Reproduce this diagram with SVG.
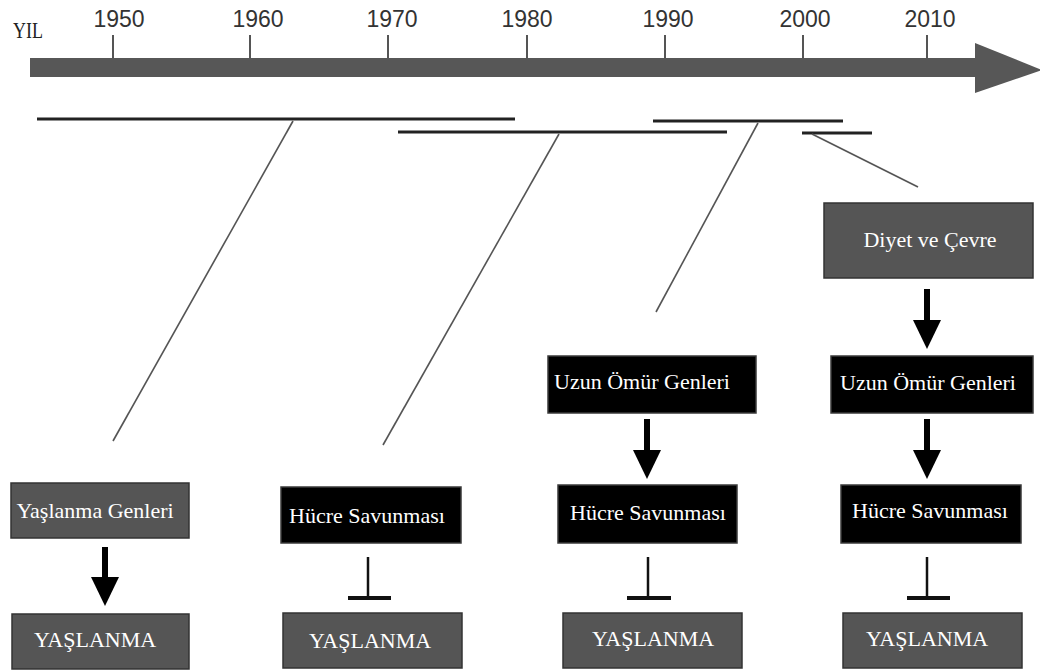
<svg xmlns="http://www.w3.org/2000/svg" width="1040" height="671" viewBox="0 0 1040 671">
<defs>
<style>
.yr{font-family:"Liberation Sans",Arial,sans-serif;font-size:23px;fill:#333;text-anchor:middle}
.tick{stroke:#555;stroke-width:2}
.lbl{font-family:"Liberation Serif","Times New Roman",serif;font-size:22px;fill:#fff;text-anchor:middle}
.gray{fill:#555;stroke:#333;stroke-width:1.5}
.blk{fill:#000;stroke:#3a3a3a;stroke-width:1.5}
.span{stroke:#222;stroke-width:3;fill:none}
.diag{stroke:#555;stroke-width:1.6;fill:none}
.act{stroke:#000;stroke-width:6;fill:none;marker-end:url(#head)}
.inh{stroke:#111;stroke-width:2.5;fill:none}
.bar{stroke:#111;stroke-width:4;fill:none}
</style>
<marker id="head" markerUnits="userSpaceOnUse" markerWidth="30" markerHeight="28" viewBox="0 0 30 28" refX="0" refY="14" orient="auto">
<path d="M0,0 L29,14 L0,28 Z" fill="#000"/>
</marker>
</defs>
<rect width="1040" height="671" fill="#fff"/>

<g id="timeline">
<text x="28" y="38" style="font-family:'Liberation Serif','Times New Roman',serif;font-size:20px;fill:#222;text-anchor:middle" transform="translate(28 38) scale(0.9 1.15) translate(-28 -38)">YIL</text>
<rect x="30" y="58" width="946" height="19" fill="#575757"/>
<polygon points="975,43 1042,70 975,93" fill="#575757"/>
<line class="tick" x1="113" y1="35" x2="113" y2="58"/>
<line class="tick" x1="250" y1="35" x2="250" y2="58"/>
<line class="tick" x1="388" y1="35" x2="388" y2="58"/>
<line class="tick" x1="527" y1="35" x2="527" y2="58"/>
<line class="tick" x1="665" y1="35" x2="665" y2="58"/>
<line class="tick" x1="803" y1="35" x2="803" y2="58"/>
<line class="tick" x1="927" y1="35" x2="927" y2="58"/>
<text class="yr" x="119" y="27">1950</text>
<text class="yr" x="258" y="27">1960</text>
<text class="yr" x="392" y="27">1970</text>
<text class="yr" x="527" y="27">1980</text>
<text class="yr" x="668" y="27">1990</text>
<text class="yr" x="805" y="27">2000</text>
<text class="yr" x="930" y="27">2010</text>
</g>

<g id="periods">
<line class="span" x1="37" y1="119" x2="515" y2="119"/>
<line class="span" x1="398" y1="132" x2="727" y2="132"/>
<line class="span" x1="653" y1="121" x2="843" y2="121"/>
<line class="span" x1="802" y1="133" x2="872" y2="133"/>
</g>

<g id="n-yaslanma-genleri">
<rect class="gray" x="11" y="483" width="178" height="55"/>
<text class="lbl" x="95" y="518">Yaşlanma Genleri</text>
</g>
<g id="n-yaslanma-1">
<rect class="gray" x="12" y="614" width="177" height="55"/>
<text class="lbl" x="95" y="647">YAŞLANMA</text>
</g>

<g id="n-hucre-2">
<rect class="blk" x="281" y="487" width="180" height="56"/>
<text class="lbl" x="367" y="523">Hücre Savunması</text>
</g>
<g id="n-yaslanma-2">
<rect class="gray" x="283" y="613" width="179" height="55"/>
<text class="lbl" x="370" y="648">YAŞLANMA</text>
</g>

<g id="n-uzun-3">
<rect class="blk" x="548" y="356" width="208" height="57"/>
<text class="lbl" x="642" y="389">Uzun Ömür Genleri</text>
</g>
<g id="n-hucre-3">
<rect class="blk" x="558" y="485" width="179" height="58"/>
<text class="lbl" x="648" y="520">Hücre Savunması</text>
</g>
<g id="n-yaslanma-3">
<rect class="gray" x="563" y="613" width="179" height="55"/>
<text class="lbl" x="653" y="646">YAŞLANMA</text>
</g>

<g id="n-diyet">
<rect class="gray" x="824" y="203" width="209" height="75"/>
<text class="lbl" x="930" y="247">Diyet ve Çevre</text>
</g>
<g id="n-uzun-4">
<rect class="blk" x="831" y="356" width="202" height="57"/>
<text class="lbl" x="928" y="390">Uzun Ömür Genleri</text>
</g>
<g id="n-hucre-4">
<rect class="blk" x="841" y="485" width="180" height="58"/>
<text class="lbl" x="930" y="518">Hücre Savunması</text>
</g>
<g id="n-yaslanma-4">
<rect class="gray" x="843" y="613" width="179" height="55"/>
<text class="lbl" x="927" y="646">YAŞLANMA</text>
</g>

<g id="connectors">
<line class="diag" x1="293" y1="121" x2="113" y2="441"/>
<line class="diag" x1="559" y1="134" x2="383" y2="445"/>
<line class="diag" x1="758" y1="123" x2="656" y2="312"/>
<line class="diag" x1="812" y1="134" x2="918" y2="187"/>
<line class="act" x1="105" y1="547" x2="105" y2="577"/>
<line class="act" x1="927" y1="289" x2="927" y2="320"/>
<line class="act" x1="647" y1="419" x2="647" y2="450"/>
<line class="act" x1="927" y1="419" x2="927" y2="450"/>
<line class="inh" x1="368" y1="557" x2="368" y2="598"/>
<line class="bar" x1="348" y1="598" x2="391" y2="598"/>
<line class="inh" x1="648" y1="557" x2="648" y2="598"/>
<line class="bar" x1="627" y1="598" x2="671" y2="598"/>
<line class="inh" x1="927" y1="557" x2="927" y2="598"/>
<line class="bar" x1="907" y1="598" x2="950" y2="598"/>
</g>
</svg>
